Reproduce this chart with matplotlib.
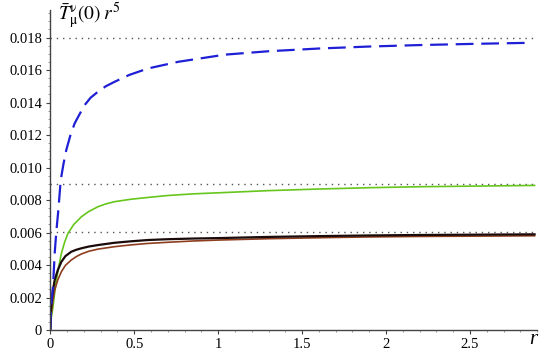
import matplotlib
matplotlib.use("Agg")
import matplotlib.pyplot as plt
from matplotlib.ticker import MultipleLocator

# values
r_blue = [0, 0.004, 0.008, 0.016, 0.026, 0.036, 0.046, 0.062, 0.078, 0.095,
          0.12, 0.145, 0.175, 0.205, 0.24, 0.284, 0.33, 0.383, 0.47, 0.582,
          0.762, 1.04, 1.3, 1.605, 1.9, 2.2, 2.55, 2.866]
v_blue = [0, 0.0012, 0.0019, 0.00267, 0.00472, 0.0061, 0.00718, 0.00923,
          0.0102, 0.01108, 0.0120, 0.01272, 0.0133, 0.01385, 0.0143, 0.01467,
          0.0150, 0.01528, 0.0157, 0.0161, 0.01651, 0.01695, 0.01716,
          0.01733, 0.01745, 0.01754, 0.01762, 0.01768]

r_green = [0, 0.005, 0.016, 0.026, 0.036, 0.05, 0.066, 0.085, 0.105, 0.14,
           0.185, 0.23, 0.284, 0.33, 0.383, 0.48, 0.582, 0.7, 0.85, 1.01,
           1.3, 1.605, 1.9, 2.2, 2.55, 2.885]
v_green = [0, 0.0007, 0.00143, 0.0023, 0.00308, 0.0039, 0.00472, 0.0054,
           0.00595, 0.0065, 0.00697, 0.0073, 0.00759, 0.00776, 0.0079,
           0.00805, 0.00816, 0.00828, 0.00838, 0.00845, 0.00858, 0.00868,
           0.00876, 0.00882, 0.00886, 0.0089]

r_black = [0, 0.002, 0.006, 0.015, 0.026, 0.045, 0.066, 0.09, 0.125, 0.155,
           0.185, 0.23, 0.284, 0.383, 0.48, 0.582, 0.7, 0.85, 1.01, 1.3,
           1.6, 1.9, 2.2, 2.55, 2.885]
v_black = [0, 0.0009, 0.00164, 0.0024, 0.00308, 0.0037, 0.0042, 0.00455,
           0.00482, 0.00494, 0.00503, 0.00514, 0.00523, 0.00537, 0.00546,
           0.00554, 0.00559, 0.00563, 0.00566, 0.00573, 0.00578, 0.00582,
           0.00585, 0.00587, 0.00589]

r_brown = [0, 0.002, 0.006, 0.015, 0.026, 0.045, 0.066, 0.09, 0.125, 0.155,
           0.185, 0.23, 0.284, 0.383, 0.48, 0.582, 0.7, 0.85, 1.01, 1.3,
           1.6, 1.9, 2.2, 2.55, 2.885]
v_brown = [0, 0.0005, 0.001, 0.0018, 0.00246, 0.0031, 0.00359, 0.00398,
           0.00431, 0.00452, 0.00468, 0.00485, 0.00498, 0.00513, 0.00524,
           0.00533, 0.0054, 0.00548, 0.00554, 0.00562, 0.00568, 0.00573,
           0.00576, 0.00578, 0.0058]

asymptotes = [0.018, 0.009, 0.00605]

x_ticks = [0, 0.5, 1, 1.5, 2, 2.5]
x_labels = ['0', '0.5', '1', '1.5', '2', '2.5']
y_ticks = [0, 0.002, 0.004, 0.006, 0.008, 0.010, 0.012, 0.014, 0.016, 0.018]
y_labels = ['0', '0.002', '0.004', '0.006', '0.008', '0.010', '0.012',
            '0.014', '0.016', '0.018']

plt.rcParams['font.family'] = ['Liberation Serif', 'DejaVu Serif']
plt.rcParams['mathtext.fontset'] = 'stix'

fig = plt.figure(figsize=(5.5, 3.6), dpi=100)
ax = fig.add_axes([0.0915, 0.0833, 0.885, 0.889])

for a in asymptotes:
    ax.plot([0, 2.9], [a, a], color='#555555', lw=1.0, ls=(0, (1, 3.5)))

ax.plot(r_green, v_green, color='#66c61c', lw=1.2)
ax.plot(r_brown, v_brown, color='#8e3d1e', lw=1.2)
ax.plot(r_black, v_black, color='#1a0a0a', lw=1.6)
ax.plot(r_blue, v_blue, color='#1f1fd6', lw=1.6, ls=(0, (8, 3.5)))

ax.set_xlim(0, 2.9)
ax.set_ylim(0, 0.0197)
for s in ['top', 'right']:
    ax.spines[s].set_visible(False)
for s in ['left', 'bottom']:
    ax.spines[s].set_color('#444444')
    ax.spines[s].set_linewidth(1.0)

ax.xaxis.set_minor_locator(MultipleLocator(0.1))
ax.yaxis.set_minor_locator(MultipleLocator(0.0005))
ax.set_xticks(x_ticks)
ax.set_xticklabels(x_labels)
ax.set_yticks(y_ticks)
ax.set_yticklabels(y_labels)
ax.tick_params(which='major', length=3, width=0.8, color='#444444',
               labelsize=10.5, pad=3)
ax.tick_params(which='minor', length=1.5, width=0.6, color='#888888')

fig.text(0.977, 0.03, 'r', fontsize=15, style='italic', ha='right', va='bottom')
fig.text(0.105, 0.915, r'$\bar{T}_{\mathrm{\mu}}^{\mathrm{\nu}}(0)\;r^{5}$',
         fontsize=14, ha='left', va='bottom')

fig.savefig('out.png', dpi=100)
